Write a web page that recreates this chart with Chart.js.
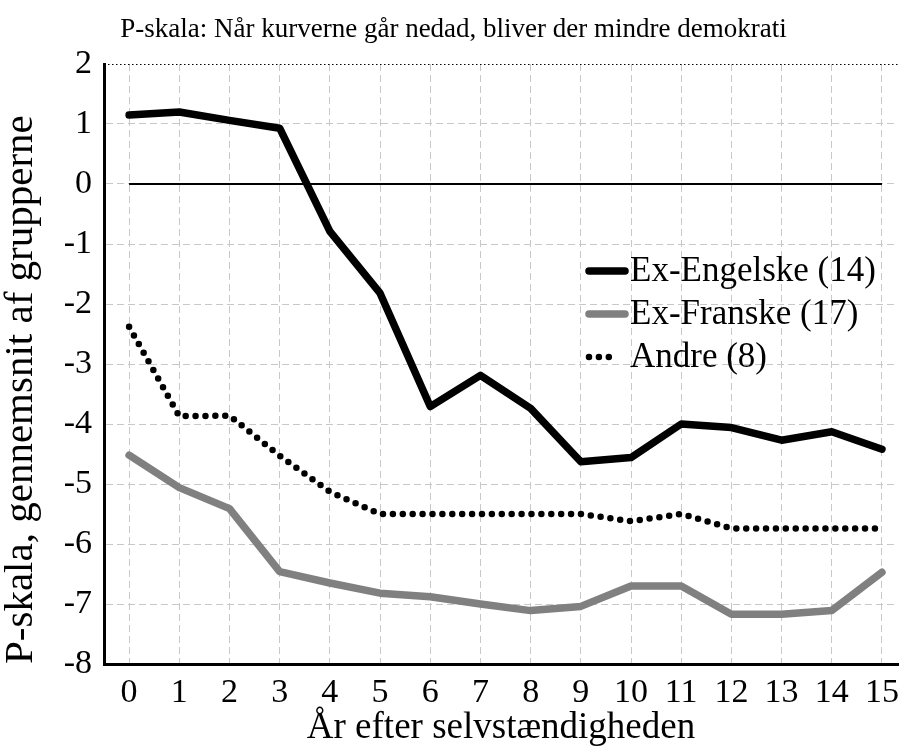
<!DOCTYPE html>
<html>
<head>
<meta charset="utf-8">
<script src="https://cdn.jsdelivr.net/npm/chart.js@4.4.1/dist/chart.umd.min.js"></script>
<style>
  html, body { margin: 0; padding: 0; background: #fff; }
  #wrap { width: 908px; height: 749px; }
</style>
</head>
<body>
<div id="wrap"><canvas id="chart" width="908" height="749"></canvas></div>
<script>
// years after independence
const years = [0, 1, 2, 3, 4, 5, 6, 7, 8, 9, 10, 11, 12, 13, 14, 15];

const exEngelske = [1.15, 1.2, 1.06, 0.93, -0.79, -1.82, -3.71, -3.19, -3.74, -4.63, -4.56, -4.0, -4.06, -4.27, -4.13, -4.42];
const exFranske = [-4.52, -5.06, -5.41, -6.46, -6.65, -6.82, -6.88, -7.0, -7.11, -7.04, -6.7, -6.7, -7.17, -7.17, -7.11, -6.47];
const andre = [-2.38, -3.87, -3.86, -4.53, -5.13, -5.5, -5.5, -5.5, -5.5, -5.5, -5.62, -5.5, -5.74, -5.74, -5.74, -5.74];

const zeroLineX = [0, 15];
const zeroLineY = [0, 0];

const yTicks = [2, 1, 0, -1, -2, -3, -4, -5, -6, -7, -8];

const serif = '"Liberation Serif", "DejaVu Serif", serif';

const toPoints = (xs, ys) => xs.map((x, i) => ({ x: x, y: ys[i] }));

// legend drawn inside the plot area
const innerLegend = {
    id: 'innerLegend',
    afterDatasetsDraw(chart) {
        const ctx = chart.ctx;
        const x0 = 589, x1 = 625;
        const rows = [271, 314, 357];
        ctx.save();
        ctx.font = '35px ' + serif;
        ctx.textBaseline = 'middle';
        ctx.fillStyle = '#000';
        chart.data.datasets.forEach((ds, i) => {
            if (!ds.label) return;
            const y = rows[i];
            ctx.beginPath();
            ctx.strokeStyle = ds.borderColor;
            ctx.lineWidth = ds.borderWidth;
            ctx.lineCap = ds.borderCapStyle || 'round';
            ctx.setLineDash(ds.borderDash || []);
            ctx.moveTo(x0, y);
            ctx.lineTo(ds.borderDash ? x1 - 8 : x1, y);
            ctx.stroke();
            ctx.setLineDash([]);
            ctx.fillText(ds.label, 630, y + 1);
        });
        ctx.restore();
    }
};

// dotted top border
const topBorder = {
    id: 'topBorder',
    beforeDatasetsDraw(chart) {
        const { ctx, chartArea } = chart;
        ctx.save();
        ctx.strokeStyle = '#000';
        ctx.lineWidth = 1.2;
        ctx.setLineDash([1.5, 2.5]);
        ctx.beginPath();
        ctx.moveTo(chartArea.left, chartArea.top + 0.5);
        ctx.lineTo(chartArea.right, chartArea.top + 0.5);
        ctx.stroke();
        ctx.restore();
    }
};

new Chart(document.getElementById('chart'), {
    type: 'line',
    data: {
        datasets: [
            {
                label: 'Ex-Engelske (14)',
                data: toPoints(years, exEngelske),
                borderColor: '#000000',
                borderWidth: 7.5,
                borderCapStyle: 'round',
                borderJoinStyle: 'round',
                pointRadius: 0,
                tension: 0,
            },
            {
                label: 'Ex-Franske (17)',
                data: toPoints(years, exFranske),
                borderColor: '#808080',
                borderWidth: 7.5,
                borderCapStyle: 'round',
                borderJoinStyle: 'round',
                pointRadius: 0,
                tension: 0,
            },
            {
                label: 'Andre (8)',
                data: toPoints(years, andre),
                borderColor: '#000000',
                borderWidth: 6.5,
                borderDash: [0, 9.9],
                borderCapStyle: 'round',
                pointRadius: 0,
                tension: 0,
            },
            {
                label: '',
                data: toPoints(zeroLineX, zeroLineY),
                borderColor: '#000000',
                borderWidth: 2,
                pointRadius: 0,
                order: 10,
            },
        ],
    },
    options: {
        responsive: false,
        animation: false,
        layout: { padding: { left: 0, right: 1, top: 0, bottom: 0 } },
        plugins: {
            legend: { display: false },
            tooltip: { enabled: false },
            title: {
                display: true,
                text: 'P-skala: Når kurverne går nedad, bliver der mindre demokrati',
                color: '#000',
                font: { family: serif, size: 27, weight: 'normal', lineHeight: 1.2 },
                padding: { top: 14, bottom: 17.6 },
            },
        },
        scales: {
            x: {
                type: 'linear',
                min: -0.5,
                max: 15.32,
                afterBuildTicks(scale) {
                    scale.ticks = years.map(v => ({ value: v }));
                },
                afterFit(scale) { scale.height = 85; },
                grid: {
                    color: '#c8c8c8',
                    lineWidth: 1,
                    drawTicks: false,
                },
                border: { display: true, color: '#000', width: 3, dash: [7, 4] },
                ticks: {
                    color: '#000',
                    font: { family: serif, size: 34 },
                    padding: 9,
                    maxRotation: 0,
                    autoSkip: false,
                },
                title: {
                    display: true,
                    text: 'År efter selvstændigheden',
                    color: '#000',
                    font: { family: serif, size: 37, lineHeight: 1.1 },
                    padding: { top: 0, bottom: 0 },
                },
            },
            y: {
                type: 'linear',
                min: -8,
                max: 2,
                afterBuildTicks(scale) {
                    scale.ticks = yTicks.map(v => ({ value: v }));
                },
                afterFit(scale) { scale.width = 104; },
                grid: {
                    color: (c) => (c.tick && c.tick.value === 2 ? 'rgba(0,0,0,0)' : '#c8c8c8'),
                    lineWidth: 1,
                    drawTicks: false,
                },
                border: { display: true, color: '#000', width: 3, dash: [7, 4] },
                ticks: {
                    color: '#000',
                    font: { family: serif, size: 34 },
                    padding: 12,
                },
                title: {
                    display: true,
                    text: 'P-skala, gennemsnit af grupperne',
                    color: '#000',
                    font: { family: serif, size: 41, lineHeight: 1.0 },
                    align: 'start',
                    padding: { top: 1, bottom: 0 },
                },
            },
        },
    },
    plugins: [topBorder, innerLegend],
});
</script>
</body>
</html>
